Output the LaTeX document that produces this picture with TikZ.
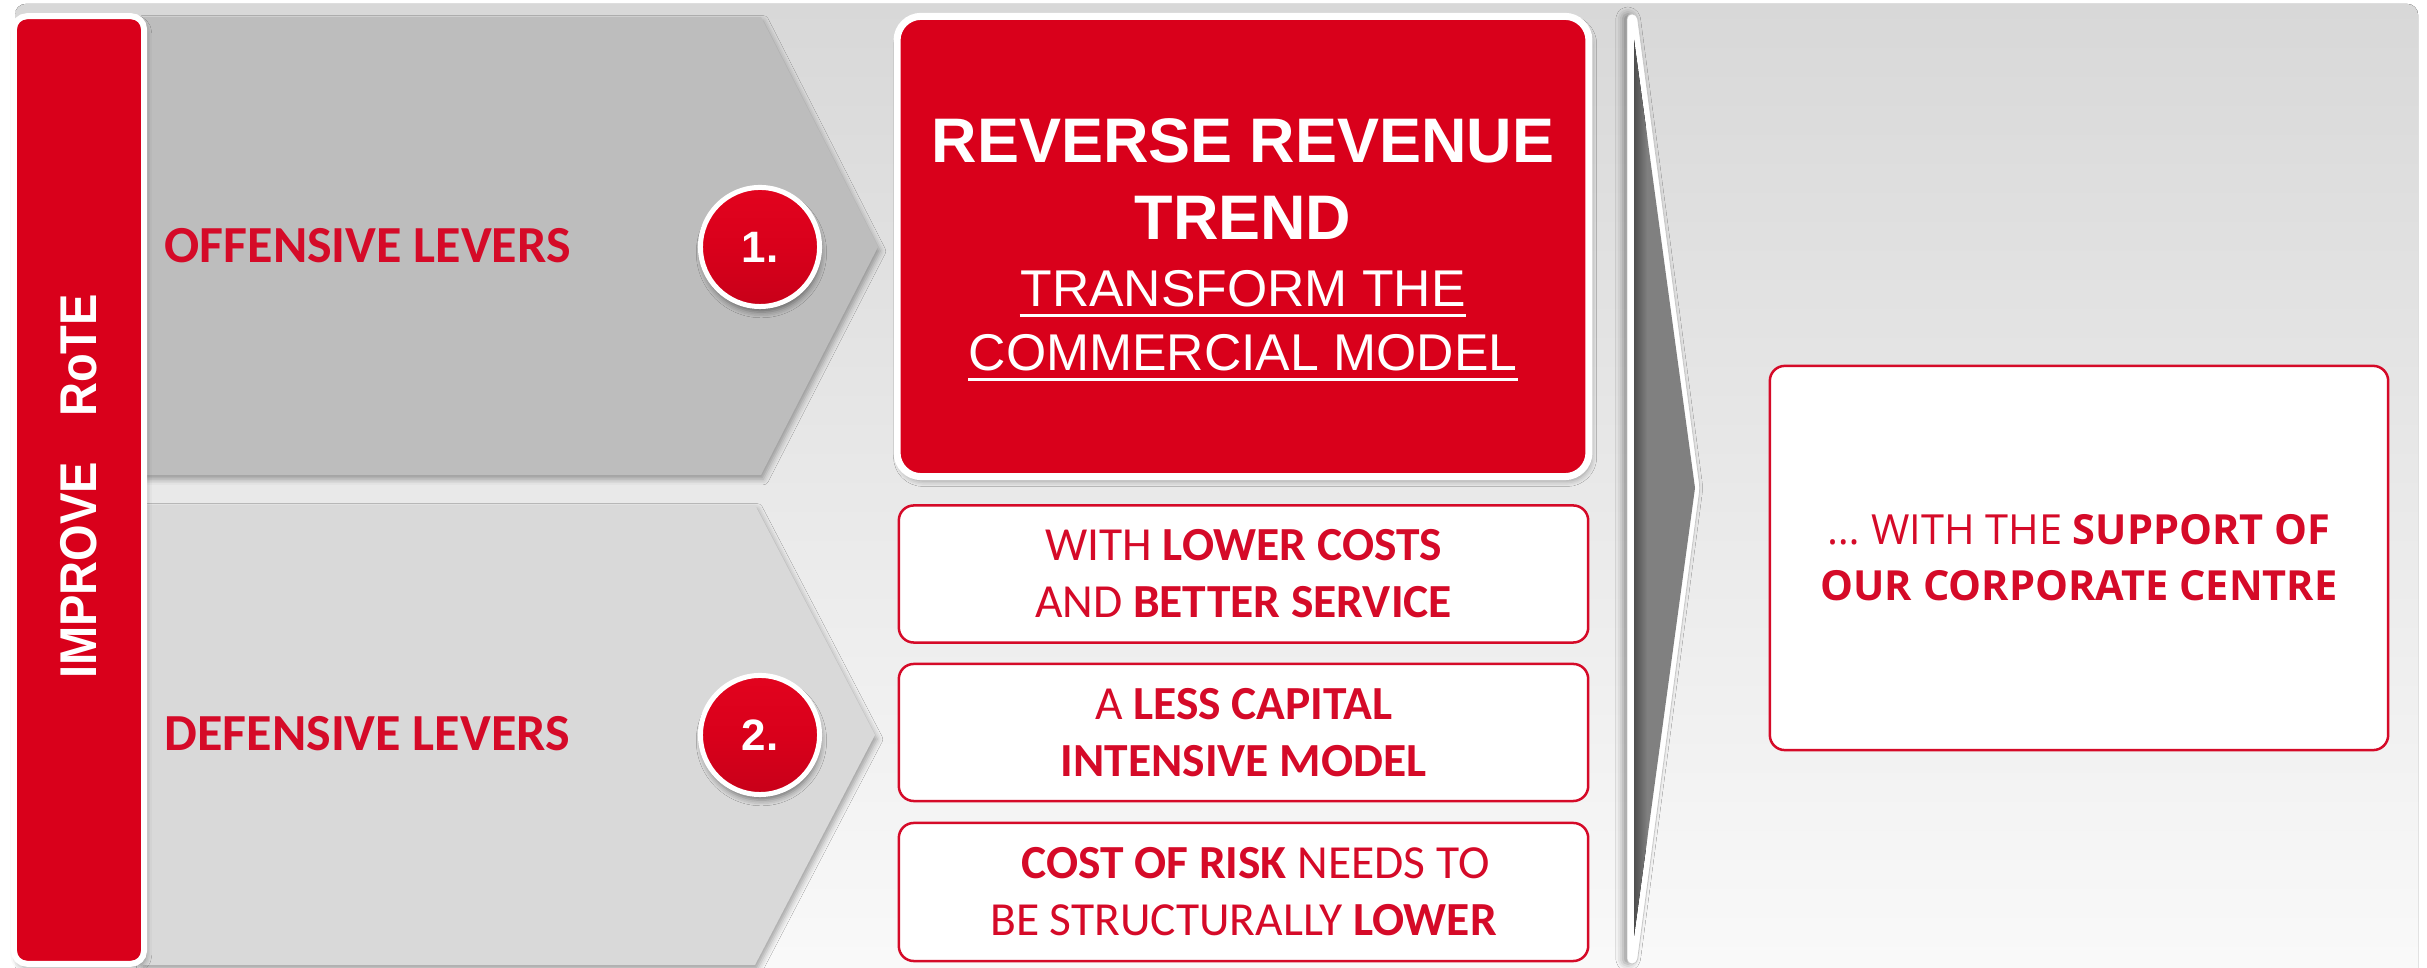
\documentclass[tikz,border=0pt]{standalone}
\usepackage{fontspec}
\setmainfont{Carlito}
\newfontfamily\arialfont{Liberation Sans}
\newfontfamily\opensansfont{Open Sans}
\usetikzlibrary{shadows.blur}

\definecolor{brandred}{HTML}{D9001B}
\definecolor{brandredlight}{HTML}{E2031E}
\definecolor{brandreddark}{HTML}{C80019}
\definecolor{textred}{HTML}{D50A28}
\definecolor{bgtop}{HTML}{D8D8D8}
\definecolor{bgbottom}{HTML}{FAFAFA}
\definecolor{leverdark}{HTML}{BDBDBD}
\definecolor{leverlight}{HTML}{D9D9D9}
\definecolor{chevgray}{HTML}{808080}
\definecolor{chevdark}{HTML}{4E4E4E}

\tikzset{
  softshadow/.style={blur shadow={shadow xshift=0.6pt, shadow yshift=-1.2pt,
      shadow opacity=35, shadow blur radius=1.6pt}},
  redbar/.style={rectangle, rounded corners=1.3mm, draw=white, line width=0.6mm,
      fill=brandred, inner sep=0, softshadow},
  redbox/.style={rectangle, rounded corners=2.4mm, draw=white, line width=0.7mm,
      fill=brandred, inner sep=0, softshadow},
  badge/.style={circle, minimum size=11.9mm, inner sep=0, draw=white, line width=0.5mm,
      top color=brandredlight, bottom color=brandreddark, middle color=brandred,
      text=white,
      blur shadow={shadow xshift=0.4pt, shadow yshift=-1.6pt, shadow opacity=45,
      shadow blur radius=1.6pt}},
  badgetext/.style={font=\arialfont\bfseries\fontsize{12.5}{14}\selectfont,
      text=white, inner sep=0},
  leverlabel/.style={font=\fontsize{14.8}{17}\selectfont\bfseries, text=textred,
      inner sep=0, anchor=base west},
  titletext/.style={font=\arialfont\bfseries\fontsize{17.9}{21}\selectfont,
      text=white, inner sep=0, anchor=base},
  subtext/.style={font=\arialfont\fontsize{14.7}{18}\selectfont,
      text=white, inner sep=0, anchor=base},
  wbox/.style={rectangle, rounded corners=1.5mm, draw=textred, line width=0.25mm,
      fill=white, align=center, text=textred, inner sep=0,
      font=\fontsize{13.5}{16.2}\selectfont},
  uline/.style={white, line width=0.3mm},
}

\begin{document}
\begin{tikzpicture}[x=0.01cm, y=-0.01cm]
\useasboundingbox (0,0) rectangle (2427,968);

% backdrop panel
\fill[top color=bgtop, bottom color=bgbottom, rounded corners=3pt]
  (15,4) rectangle (2418,990);

% the two lever arrows
\fill[leverdark, softshadow]
  (140,17) -- (761,17) -- (878,247) -- (761,475) -- (140,475) -- cycle;
\fill[leverlight, softshadow]
  (140,505) -- (755,505) -- (875,735) -- (755,965) -- (140,965) -- cycle;

% vertical banner
\node[redbar, minimum width=13mm, minimum height=94.7mm] (bar) at (79,490) {};
\node[rotate=90, text=white, inner sep=0,
      font=\arialfont\bfseries\fontsize{14.7}{17}\selectfont] (improve) at (78.5,486.5)
  {\scalebox{0.91}[1]{IMPROVE\hspace{4.95mm}RoTE}};

% lever labels and numbered badges
\node[leverlabel] (offensive) at (164,263) {OFFENSIVE LEVERS};
\node[leverlabel] (defensive) at (164,751) {DEFENSIVE LEVERS};
\node[badge] (one) at (760,247) {};
\node[badgetext] (onetext) at (one.center) {1.};
\node[badge] (two) at (760,735) {};
\node[badgetext] (twotext) at (two.center) {2.};

% headline box
\node[redbox, minimum width=69.15mm, minimum height=46mm] (revenue) at (1243,246.5) {};
\node[titletext] (title1) at (1243,163) {REVERSE REVENUE};
\node[titletext] (title2) at (1243,240) {TREND};
\node[subtext] (sub1) at (1243,307) {TRANSFORM THE};
\node[subtext] (sub2) at (1243,371) {COMMERCIAL MODEL};
\draw[uline] ([yshift=-2.5pt]sub1.base west) -- ([yshift=-2.5pt]sub1.base east);
\draw[uline] ([yshift=-2.5pt]sub2.base west) -- ([yshift=-2.5pt]sub2.base east);

% defensive lever boxes
\node[wbox, minimum width=68.9mm, minimum height=13.7mm] (costs) at (1243.5,574)
  {WITH \textbf{LOWER COSTS}\\AND \textbf{BETTER SERVICE}};
\node[wbox, minimum width=68.9mm, minimum height=13.7mm] (capital) at (1243.5,732.5)
  {A \textbf{LESS CAPITAL}\\\textbf{INTENSIVE MODEL}};
\node[wbox, minimum width=68.9mm, minimum height=13.8mm] (risk) at (1243.5,892)
  {\hspace{2.4mm}\textbf{COST OF RISK} NEEDS TO\\BE STRUCTURALLY \textbf{LOWER}};

% separating chevron
\fill[white, draw=black!22, line width=0.2pt, rounded corners=1.4pt,
      blur shadow={shadow xshift=-1.2pt, shadow yshift=0pt, shadow opacity=40,
      shadow blur radius=2pt}]
  (1627,14) -- (1637,14) -- (1700,488) -- (1637,964) -- (1627,964) -- cycle;
\begin{scope}
  \clip (1634,40) -- (1695,488) -- (1634,936) -- cycle;
  \fill[chevgray] (1630,30) rectangle (1700,950);
  \fill[left color=chevdark, right color=chevgray] (1634,30) rectangle (1647,950);
\end{scope}

% corporate centre box
\node[wbox, minimum width=61.8mm, minimum height=38.4mm,
      font=\opensansfont\fontsize{11.8}{15.9}\selectfont] (centre) at (2079,558)
  {… WITH THE \textbf{SUPPORT OF}\\\textbf{OUR CORPORATE CENTRE}};
\end{tikzpicture}
\end{document}
